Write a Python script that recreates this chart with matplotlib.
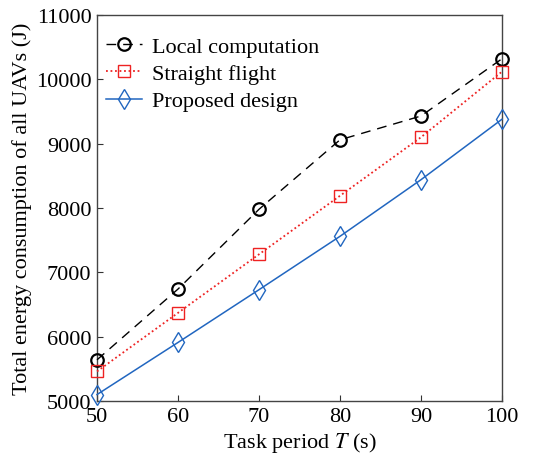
import matplotlib
matplotlib.use("Agg")
import matplotlib.pyplot as plt

T = [50, 60, 70, 80, 90, 100]
local = [5640, 6740, 7980, 9060, 9430, 10320]
straight = [5460, 6370, 7280, 8190, 9100, 10120]
proposed = [5100, 5910, 6730, 7560, 8440, 9380]
labels = ["Local computation", "Straight flight", "Proposed design"]

plt.rcParams['font.family'] = ['Liberation Serif', 'DejaVu Serif']
plt.rcParams['mathtext.fontset'] = 'stix'

fig = plt.figure(figsize=(5.36, 4.56), dpi=100)
ax = fig.add_axes([97/536, 1-402/456, 405/536, 386/456])

ax.plot(T, local, color='black', ls=(0, (7, 5)), lw=1.0, marker='o', ms=9,
        mfc='none', mec='black', mew=1.6, label=labels[0], clip_on=False, zorder=3)
ax.plot(T, straight, color='#ee2222', ls=(0, (1, 1.5)), lw=1.3, marker='s', ms=8,
        mfc='none', mec='#ee2222', mew=1.0, label=labels[1], clip_on=False, zorder=3)
ax.plot(T, proposed, color='#2166c0', ls='-', lw=1.1, marker='d', ms=10,
        mfc='none', mec='#2166c0', mew=1.0, label=labels[2], clip_on=False, zorder=3)

ax.set_xlim(50, 100)
ax.set_ylim(5000, 11000)
ax.set_xticks(T)
ax.set_yticks(range(5000, 11001, 1000))
ax.tick_params(direction='in', labelsize=16, length=4, color='#333333', pad=4)
for s in ax.spines.values():
    s.set_color('#444444')
    s.set_linewidth(1.0)

ax.set_xlabel("Task period $T$ (s)", fontsize=16, labelpad=3)
ax.set_ylabel("Total energy consumption of all UAVs (J)", fontsize=16, labelpad=3)

ax.legend(loc='upper left', frameon=False, fontsize=16, handlelength=1.6,
          handletextpad=0.45, bbox_to_anchor=(-0.015, 0.985), borderaxespad=0.3,
          labelspacing=0.3)

fig.savefig("out.png", dpi=100)
